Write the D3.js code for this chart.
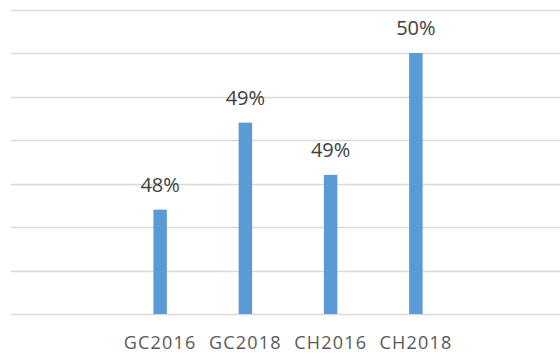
<!DOCTYPE html>
<html>
<head>
<meta charset="utf-8">
<script src="https://cdn.jsdelivr.net/npm/d3@7"></script>
<style>
  body { margin: 0; background: #fff; }
  text { font-family: "Open Sans", sans-serif; }
</style>
</head>
<body>
<script>
// data
var categories = ["GC2016", "GC2018", "CH2016", "CH2018"];
var values = [0.482, 0.492, 0.486, 0.500];
var gridTicks = [0.47, 0.475, 0.48, 0.485, 0.49, 0.495, 0.50, 0.505];

var width = 560, height = 356;

var svg = d3.select('body').append('svg')
    .attr('width', width)
    .attr('height', height);

var xScale = d3.scaleBand()
    .domain(categories)
    .range([117.5, 458.5])
    .paddingInner(0.842)
    .paddingOuter(0.421);

var yScale = d3.scaleLinear()
    .domain([0.47, 0.505])
    .range([314, 9.6]);

// stödlinjer
svg.append('g').selectAll('line').data(gridTicks)
    .enter().append('line')
    .attr('x1', 11)
    .attr('x2', width)
    .attr('y1', function(d) { return Math.round(yScale(d)) + 0.5; })
    .attr('y2', function(d) { return Math.round(yScale(d)) + 0.5; })
    .attr('stroke', '#d9d9d9')
    .attr('stroke-width', 1.3);

// staplar
svg.append('g').selectAll('rect').data(values)
    .enter().append('rect')
    .attr('x', function(d, i) { return xScale(categories[i]); })
    .attr('y', function(d) { return yScale(d); })
    .attr('width', xScale.bandwidth())
    .attr('height', function(d) { return yScale(0.47) - yScale(d); })
    .attr('fill', '#5b9bd5');

// värdeetiketter
svg.append('g').selectAll('text').data(values)
    .enter().append('text')
    .attr('x', function(d, i) { return xScale(categories[i]) + xScale.bandwidth() / 2; })
    .attr('y', function(d) { return yScale(d) - 18; })
    .attr('text-anchor', 'middle')
    .attr('font-size', '20px')
    .attr('fill', '#404040')
    .text(function(d) { return d3.format('.0%')(d); });

// x-axel utan linje
var xAxis = d3.axisBottom(xScale).tickSize(0).tickPadding(0);
var gx = svg.append('g')
    .attr('transform', 'translate(0,336.5)')
    .call(xAxis);
gx.select('.domain').remove();
gx.selectAll('text')
    .attr('font-family', '"Open Sans", sans-serif')
    .attr('font-size', '18px')
    .attr('letter-spacing', '1.2px')
    .attr('fill', '#595959');
</script>
</body>
</html>
